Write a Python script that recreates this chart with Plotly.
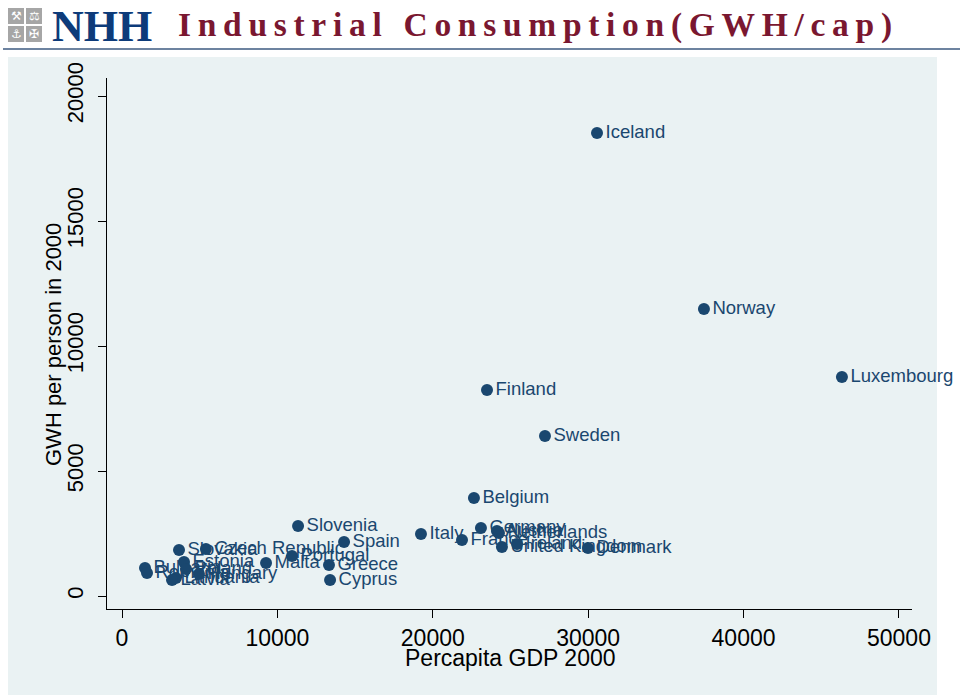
import plotly.graph_objects as go

countries = ["Iceland", "Norway", "Luxembourg", "Finland", "Sweden", "Belgium",
             "Germany", "Austria", "Netherlands", "Italy", "France", "Ireland",
             "United Kingdom", "Denmark", "Slovenia", "Spain", "Portugal",
             "Czech Republic", "Slovakia", "Malta", "Greece", "Cyprus", "Estonia",
             "Bulgaria", "Romania", "Poland", "Hungary", "Lithuania", "Latvia"]
gdp = [30570, 37450, 46330, 23490, 27220, 22650,
       23100, 24130, 24260, 19240, 21880, 25420,
       24450, 29990, 11330, 14290, 10940,
       5400, 3670, 9270, 13320, 13390, 3990,
       1480, 1610, 4120, 4950, 3470, 3220]
gwh = [18520, 11480, 8760, 8240, 6400, 3920,
       2720, 2600, 2520, 2480, 2240, 2080,
       1960, 1920, 2800, 2160, 1600,
       1880, 1840, 1320, 1240, 640, 1360,
       1120, 920, 1080, 880, 720, 640]

x_ticks = [0, 10000, 20000, 30000, 40000, 50000]
y_ticks = [0, 5000, 10000, 15000, 20000]

title_text = "Industrial Consumption(GWH/cap)"
x_title = "Percapita GDP 2000"
y_title = "GWH per person in 2000"

W, H = 960, 700
navy = "#1a476f"
font_fam = "Liberation Sans, Arial, sans-serif"

fig = go.Figure()
fig.add_trace(go.Scatter(
    x=gdp, y=gwh, text=countries, mode="markers+text",
    textposition="middle right",
    marker=dict(size=12, color=navy),
    textfont=dict(size=18.5, color=navy, family=font_fam),
    cliponaxis=False, showlegend=False,
))

# panel background
fig.add_shape(type="rect", xref="paper", yref="paper",
              x0=8 / W, x1=937 / W, y0=1 - 695 / H, y1=1 - 57 / H,
              fillcolor="#eaf2f3", line=dict(width=0), layer="below")
# header line
fig.add_shape(type="line", xref="paper", yref="paper",
              x0=3 / W, x1=1, y0=1 - 49 / H, y1=1 - 49 / H,
              line=dict(color="#3d5a80", width=1.5))

# logo squares
logo_syms = ["⚒", "⚖", "⚓", "✠"]
cells = [(8, 8), (26, 8), (8, 26), (26, 26)]
for (cx, cy), s in zip(cells, logo_syms):
    fig.add_shape(type="rect", xref="paper", yref="paper",
                  x0=cx / W, x1=(cx + 16) / W, y0=1 - (cy + 16) / H, y1=1 - cy / H,
                  fillcolor="#a6a6a6", line=dict(width=0))
    fig.add_annotation(xref="paper", yref="paper", x=(cx + 8) / W, y=1 - (cy + 8) / H,
                       text=s, showarrow=False, font=dict(size=12, color="white",
                       family="DejaVu Sans"), xanchor="center", yanchor="middle")

fig.add_annotation(xref="paper", yref="paper", x=50 / W, y=1 - 26 / H,
                   text="<b>NHH</b>", showarrow=False, xanchor="left", yanchor="middle",
                   font=dict(size=44, color="#0d3b7a", family="Liberation Serif, serif"))
spaced_title = "\u2009".join(title_text)
fig.add_annotation(xref="paper", yref="paper", x=535 / W, y=1 - 25 / H,
                   text="<b>" + spaced_title + "</b>", showarrow=False,
                   xanchor="center", yanchor="middle",
                   font=dict(size=33.5, color="#7a1730", family="Liberation Serif, serif"))

# axis titles
fig.add_annotation(xref="paper", yref="paper", x=510 / W, y=1 - 658 / H,
                   text=x_title, showarrow=False, xanchor="center", yanchor="middle",
                   font=dict(size=23, color="black", family=font_fam))
fig.add_annotation(xref="paper", yref="paper", x=53 / W, y=1 - 345 / H,
                   text=y_title, showarrow=False, xanchor="center", yanchor="middle",
                   textangle=-90, font=dict(size=22, color="black", family=font_fam))

fig.update_layout(
    width=W, height=H,
    margin=dict(l=0, r=0, t=0, b=0, autoexpand=False),
    paper_bgcolor="white", plot_bgcolor="white",
    font=dict(family=font_fam, color="black"),
    xaxis=dict(
        domain=[107 / W, 912 / W], range=[-965, 50840], automargin=False,
        tickvals=x_ticks, ticktext=[str(v) for v in x_ticks],
        ticks="outside", ticklen=8, tickcolor="black",
        showline=True, linecolor="black", linewidth=1,
        showgrid=False, zeroline=False,
        tickfont=dict(size=23),
    ),
    yaxis=dict(
        domain=[1 - 609 / H, 1 - 78 / H], range=[-520, 20720], automargin=False,
        tickvals=y_ticks, ticktext=[str(v) for v in y_ticks],
        tickangle=-90, ticklabelstandoff=6,
        ticks="outside", ticklen=8, tickcolor="black",
        showline=True, linecolor="black", linewidth=1,
        showgrid=True, gridcolor="#eaf2f3", gridwidth=1, zeroline=False,
        tickfont=dict(size=22),
    ),
)

fig.write_html("out.html")
